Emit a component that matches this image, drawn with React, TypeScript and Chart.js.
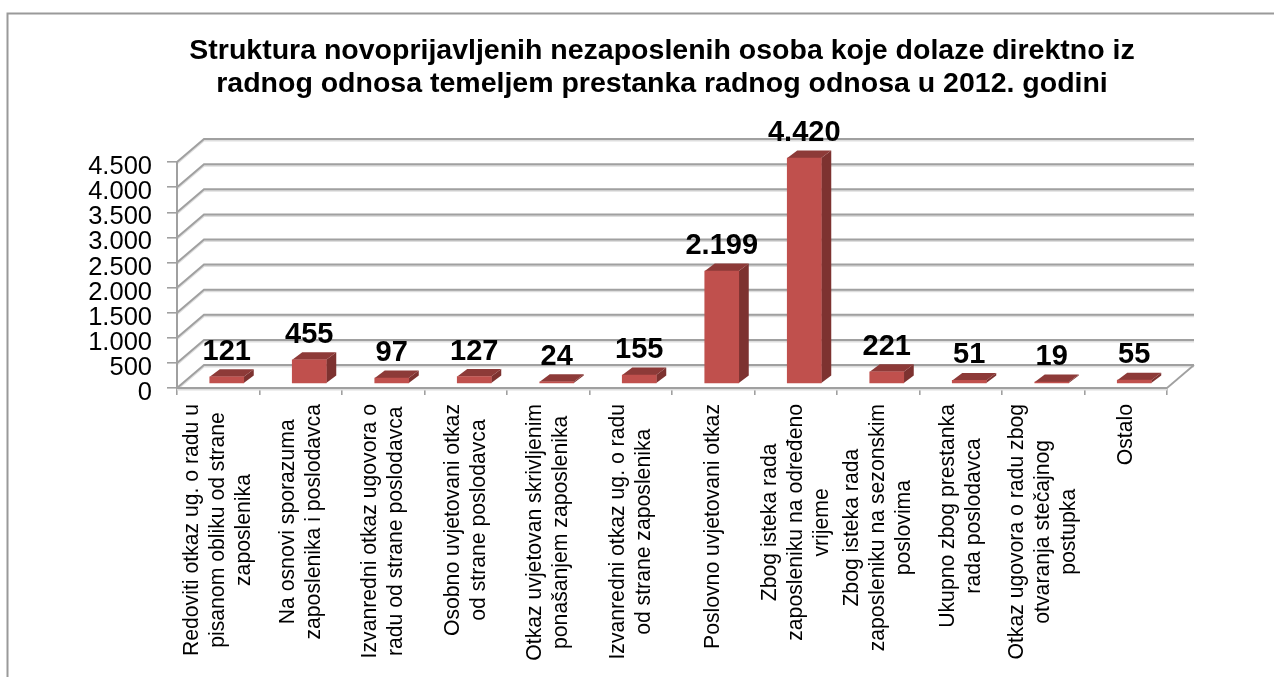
import React, { useEffect, useRef } from "react";
import { Chart, registerables } from "chart.js";

Chart.register(...registerables);

const titleLines = [
  "Struktura novoprijavljenih nezaposlenih osoba koje dolaze direktno iz",
  "radnog odnosa temeljem prestanka radnog odnosa u 2012. godini",
];
const categories: string[][] = [
  ["Redoviti otkaz ug. o radu u", "pisanom obliku od strane", "zaposlenika"],
  ["Na osnovi sporazuma", "zaposlenika i poslodavca"],
  ["Izvanredni otkaz ugovora o", "radu od strane poslodavca"],
  ["Osobno uvjetovani otkaz", "od strane poslodavca"],
  ["Otkaz uvjetovan skrivljenim", "ponašanjem zaposlenika"],
  ["Izvanredni otkaz ug. o radu", "od strane zaposlenika"],
  ["Poslovno uvjetovani otkaz"],
  ["Zbog isteka rada", "zaposleniku na određeno", "vrijeme"],
  ["Zbog isteka rada", "zaposleniku na sezonskim", "poslovima"],
  ["Ukupno zbog prestanka", "rada poslodavca"],
  ["Otkaz ugovora o radu zbog", "otvaranja stečajnog", "postupka"],
  ["Ostalo"],
];
const values = [121, 455, 97, 127, 24, 155, 2199, 4420, 221, 51, 19, 55];
const yTickLabels = ["0", "500", "1.000", "1.500", "2.000", "2.500", "3.000", "3.500", "4.000", "4.500"];

const GRID = "#a0a0a0";
const GRID_SOFT = "#dedede";
const WALL_DX = 27;
const WALL_DY = 23;
const BAR_SHIFT = 8.5;
const BAR_DX = 10;
const BAR_DY = 7.5;
const fmt = (v: number) => String(v).replace(/\B(?=(\d{3})+$)/g, ".");

const line = (ctx: any, pts: number[][], color: string, w: number) => {
  ctx.beginPath();
  ctx.strokeStyle = color;
  ctx.lineWidth = w;
  pts.forEach((p, i) => (i ? ctx.lineTo(p[0], p[1]) : ctx.moveTo(p[0], p[1])));
  ctx.stroke();
};
const poly = (ctx: any, pts: number[][], color: string) => {
  ctx.beginPath();
  ctx.fillStyle = color;
  pts.forEach((p, i) => (i ? ctx.lineTo(p[0], p[1]) : ctx.moveTo(p[0], p[1])));
  ctx.closePath();
  ctx.fill();
};

const scene = {
  id: "scene",
  beforeDraw(chart: any) {
    const { ctx, width, height } = chart;
    ctx.save();
    line(ctx, [[7.5, height], [7.5, 13.5], [width, 13.5]], "#9a9a9a", 2);
    ctx.restore();
  },
  beforeDatasetsDraw(chart: any) {
    const { ctx, scales } = chart;
    const y = scales.y;
    const x = scales.x;
    const L = x.left;
    const R = x.right;
    ctx.save();
    yTickLabels.forEach((_, i) => {
      const py = y.getPixelForValue(i * 500);
      const by = py - WALL_DY;
      line(ctx, [[L, py + 1.5], [L + WALL_DX, by + 1.5], [R + WALL_DX, by + 1.5]], GRID_SOFT, 2);
      line(ctx, [[L, py], [L + WALL_DX, by], [R + WALL_DX, by]], GRID, 2);
    });
    const y0 = y.getPixelForValue(0);
    const yT = y.getPixelForValue(4500);
    line(ctx, [[R, y0], [R + WALL_DX, y0 - WALL_DY]], GRID, 1.8);
    line(ctx, [[L, y0 + 1.5], [R, y0 + 1.5]], GRID_SOFT, 2);
    line(ctx, [[L, y0], [R, y0]], GRID, 2);
    line(ctx, [[L, yT], [L, y0 + 1]], GRID, 2);
    ctx.restore();
  },
  beforeDatasetDraw(chart: any, args: any) {
    const { ctx } = chart;
    ctx.save();
    ctx.translate(BAR_SHIFT, 0);
    const meta = chart.getDatasetMeta(args.index);
    meta.data.forEach((b: any) => {
      const l = b.x - b.width / 2;
      const r = b.x + b.width / 2;
      const t = b.y;
      const bt = b.base;
      poly(ctx, [[r, t], [r + BAR_DX, t - BAR_DY], [r + BAR_DX, bt - BAR_DY], [r, bt]], "#7d3230");
      poly(ctx, [[l, t], [l + BAR_DX, t - BAR_DY], [r + BAR_DX, t - BAR_DY], [r, t]], "#8d3a38");
    });
  },
  afterDatasetDraw(chart: any) {
    chart.ctx.restore();
  },
  afterDatasetsDraw(chart: any) {
    const { ctx, scales } = chart;
    const meta = chart.getDatasetMeta(0);
    ctx.save();
    ctx.fillStyle = "#000";
    ctx.textAlign = "center";
    ctx.textBaseline = "middle";
    ctx.font = "bold 29px 'Liberation Sans'";
    meta.data.forEach((b: any, i: number) => {
      ctx.fillText(fmt(values[i]), b.x + BAR_SHIFT, b.y - BAR_DY - 17.5);
    });
    // category labels: rotated, each line centred inside its block
    ctx.font = "21.2px 'Liberation Sans'";
    ctx.fillStyle = "#000";
    categories.forEach((lines, i) => {
      const cx = scales.x.getPixelForTick(i);
      const widest = Math.max(...lines.map((s) => ctx.measureText(s).width));
      lines.forEach((s, j) => {
        ctx.save();
        ctx.translate(cx + (j - (lines.length - 1) / 2) * 26, 404 + widest / 2);
        ctx.rotate(-Math.PI / 2);
        ctx.textAlign = "center";
        ctx.textBaseline = "middle";
        ctx.fillText(s, 0, 0);
        ctx.restore();
      });
    });
    ctx.restore();
  },
};

export default function App() {
  const ref = useRef<HTMLCanvasElement | null>(null);
  useEffect(() => {
    const chart = new Chart(ref.current as HTMLCanvasElement, {
      type: "bar",
      data: {
        labels: categories.map((c) => c.join(" ")),
        datasets: [
          {
            data: values,
            yAxisID: "yBars",
            backgroundColor: "#c0504d",
            borderWidth: 0,
            barThickness: 34,
            clip: false,
          } as any,
        ],
      },
      options: {
        animation: false,
        responsive: false,
        layout: { padding: { left: 50, right: 0, top: 0, bottom: 0 } },
        plugins: {
          legend: { display: false },
          tooltip: { enabled: false },
          title: {
            display: true,
            text: titleLines,
            color: "#000",
            font: { family: "'Liberation Sans'", size: 28.5, weight: "bold", lineHeight: 33 / 28.5 },
            padding: { top: 35, bottom: 36 },
          },
        },
        scales: {
          x: {
            offset: true,
            grid: { drawOnChartArea: false, drawTicks: true, tickLength: 7, color: GRID, lineWidth: 1.6, offset: true },
            border: { display: false },
            ticks: { display: false },
            afterFit: (s: any) => {
              s.height = 289;
            },
          },
          y: {
            min: 0,
            max: 5000,
            position: "left",
            grid: { drawOnChartArea: false, drawTicks: true, tickLength: 10, color: GRID, lineWidth: 1.6 },
            border: { display: false },
            ticks: {
              stepSize: 500,
              autoSkip: false,
              padding: 15,
              labelOffset: 5,
              color: "#000",
              font: { family: "'Liberation Sans'", size: 25.5, lineHeight: 1 },
              callback: (_: any, i: number) => yTickLabels[i],
            },
            afterBuildTicks: (s: any) => {
              s.ticks = s.ticks.filter((t: any) => t.value <= 4500);
            },
            afterFit: (s: any) => {
              s.width = 127;
            },
          },
          yBars: {
            min: -98.66,
            max: 4834,
            position: "right",
            grid: { display: false },
            border: { display: false },
            ticks: { display: false },
            afterFit: (s: any) => {
              s.width = 107;
            },
          },
        },
      } as any,
      plugins: [scene],
    });
    return () => chart.destroy();
  }, []);
  return (
    <div style={{ position: "absolute", left: 0, top: 0, width: 1274, height: 677, background: "#fff", overflow: "hidden" }}>
      <canvas ref={ref} width={1274} height={677} style={{ display: "block", filter: "blur(0.7px)" }} />
    </div>
  );
}
